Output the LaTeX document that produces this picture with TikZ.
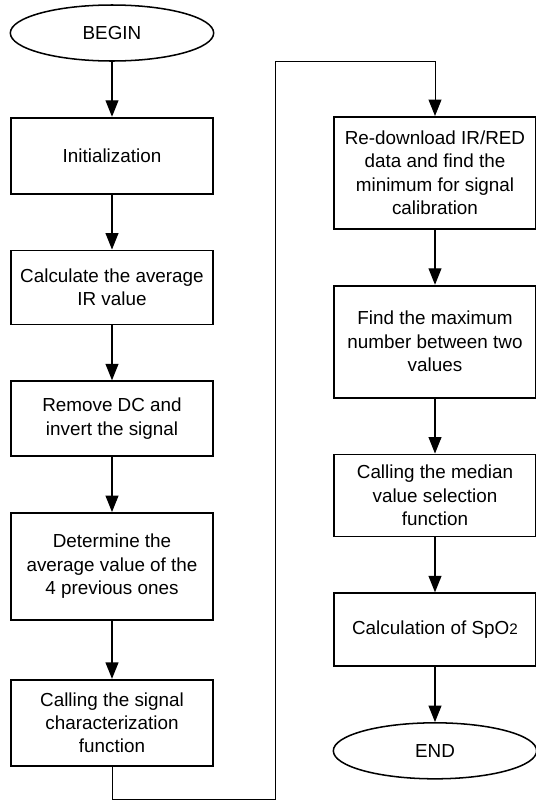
\documentclass[tikz,border=0pt]{standalone}
\usepackage{fontspec}
\setmainfont{Liberation Sans}
\usetikzlibrary{shapes.geometric, arrows.meta, positioning}

\begin{document}
\begin{tikzpicture}[x=0.03cm, y=-0.03cm, font=\fontsize{16.1}{20}\selectfont, node distance=1.65cm,
        st/.style={draw, line width=1.5pt, minimum width=6.06cm, align=center, inner sep=2pt},
        term/.style={ellipse, draw, line width=1.3pt, minimum width=6.1cm, minimum height=1.68cm},
        tr/.style={-{Triangle[length=14pt, width=11pt]}, line width=1pt}]
    \useasboundingbox (0,0) rectangle (536,801);
    \node[term] (b) at (112,33) {BEGIN};
    \node[st, below=of b, minimum height=2.28cm] (i) {Initialization};
    \node[st, below=of i, minimum height=2.22cm] (a) {Calculate the average\\IR value};
    \node[st, below=of a, minimum height=2.25cm] (r) {Remove DC and\\invert the signal};
    \node[st, below=of r, minimum height=3.21cm] (p) {Determine the\\average value of the\\4 previous ones};
    \node[st, below=1.74cm of p, minimum height=2.58cm] (c) {Calling the signal\\characterization\\function};
    \node[st, anchor=north, minimum height=3.36cm] (d) at (435,116) {Re-download IR/RED\\data and find the\\minimum for signal\\calibration};
    \node[st, below=of d, minimum height=3.36cm] (m) {Find the maximum\\number between two\\values};
    \node[st, below=of m, minimum height=2.46cm] (v) {Calling the median\\value selection\\function};
    \node[st, below=of v, minimum height=2.19cm] (s) {Calculation of SpO{\fontsize{13}{13}\selectfont 2}};
    \node[term, below=of s] (e) {END};
    \coordinate (lb) at (275,799);
    \coordinate (lt) at (275,61);
    \draw[tr] (b) -- (i); \draw[tr] (i) -- (a); \draw[tr] (a) -- (r); \draw[tr] (r) -- (p); \draw[tr] (p) -- (c);
    \draw[tr, line width=0.8pt] (c.south) |- (lb) -- (lt) -| (d.north);
    \draw[tr] (d) -- (m); \draw[tr] (m) -- (v); \draw[tr] (v) -- (s); \draw[tr] (s) -- (e);
\end{tikzpicture}
\end{document}
